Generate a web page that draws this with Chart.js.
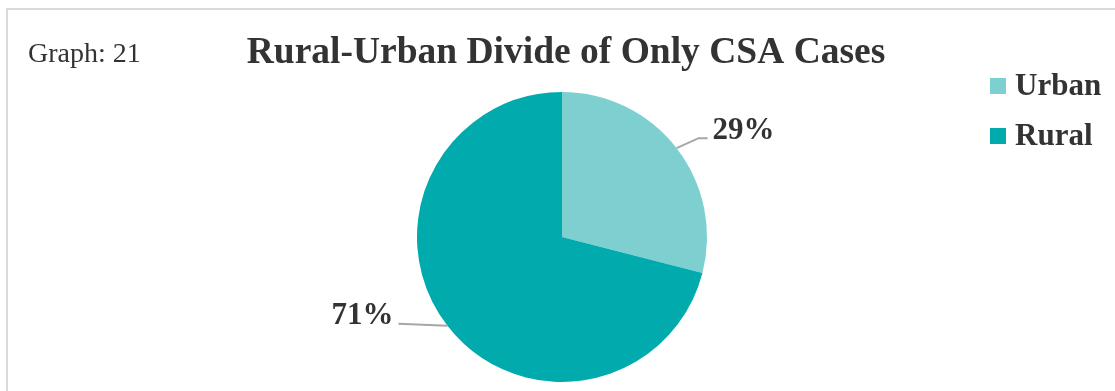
<!DOCTYPE html>
<html>
<head>
<meta charset="utf-8">
<script src="https://cdn.jsdelivr.net/npm/chart.js@4/dist/chart.umd.min.js"></script>
<style>
    html, body { margin: 0; padding: 0; background: #fff; overflow: hidden; }
    #myChart { display: block; }
</style>
</head>
<body>
<canvas id="myChart" width="1115" height="391"></canvas>
<script>
const areas = ["Urban", "Rural"];
const shares = [29, 71];
const sliceColors = ["#7ecfd0", "#00aaad"];
const chartTitle = "Rural-Urban Divide of Only CSA Cases";
const graphTag = "Graph: 21";

const textColor = "#333333";
const serif = "'Liberation Serif', 'Times New Roman', serif";

// frame edge, titles, legend and percent labels with leader lines
const decorations = {
    id: "decorations",
    beforeDraw(chart) {
        let ctx = chart.ctx;
        ctx.save();
        ctx.strokeStyle = "#d9d9d9";
        ctx.lineWidth = 2;
        ctx.beginPath();
        ctx.moveTo(7, chart.height);
        ctx.lineTo(7, 9);
        ctx.lineTo(chart.width, 9);
        ctx.stroke();
        ctx.restore();
    },
    afterDatasetsDraw(chart) {
        let ctx = chart.ctx;
        ctx.save();
        ctx.fillStyle = textColor;

        ctx.font = "28px " + serif;
        ctx.textAlign = "left";
        ctx.textBaseline = "alphabetic";
        ctx.fillText(graphTag, 28, 62);

        ctx.font = "bold 37.5px " + serif;
        ctx.textAlign = "center";
        ctx.fillText(chartTitle, 566, 63);

        /* legend */
        ctx.font = "bold 31px " + serif;
        ctx.textAlign = "left";
        let legendY = [86, 136];
        for (let i = 0; i < areas.length; i++) {
            ctx.fillStyle = sliceColors[i];
            ctx.fillRect(990, legendY[i] - 8, 16, 16);
            ctx.fillStyle = textColor;
            ctx.textBaseline = "middle";
            ctx.fillText(areas[i], 1015, legendY[i] + 1);
        }

        /* percent labels */
        let arcs = chart.getDatasetMeta(0).data;
        ctx.font = "bold 31px " + serif;
        ctx.strokeStyle = "#a6a6a6";
        ctx.lineWidth = 2;
        for (let i = 0; i < arcs.length; i++) {
            let a = arcs[i].getProps(["x", "y", "startAngle", "endAngle", "outerRadius"], true);
            let mid = (a.startAngle + a.endAngle) / 2;
            let ex = a.x + Math.cos(mid) * a.outerRadius;
            let ey = a.y + Math.sin(mid) * a.outerRadius;
            let label = shares[i] + "%";
            ctx.beginPath();
            ctx.moveTo(ex, ey);
            if (ex > a.x) {
                ctx.lineTo(ex + 22, ey - 10);
                ctx.lineTo(ex + 31, ey - 10);
                ctx.stroke();
                ctx.textAlign = "left";
                ctx.fillText(label, ex + 36, ey - 17);
            } else {
                ctx.lineTo(ex - 49, ey - 2);
                ctx.stroke();
                ctx.textAlign = "right";
                ctx.fillText(label, ex - 54, ey - 10);
            }
        }
        ctx.restore();
    }
};

let ctx = document.getElementById("myChart");
let myChart = new Chart(ctx, {
    type: "pie",
    data: {
        labels: areas,
        datasets: [{
            data: shares,
            backgroundColor: sliceColors,
            borderWidth: 0
        }]
    },
    options: {
        responsive: false,
        animation: false,
        layout: {
            padding: { left: 417, right: 408, top: 92, bottom: 9 }
        },
        plugins: {
            legend: { display: false },
            tooltip: { enabled: false },
            title: { display: false }
        }
    },
    plugins: [decorations]
});
</script>
</body>
</html>
